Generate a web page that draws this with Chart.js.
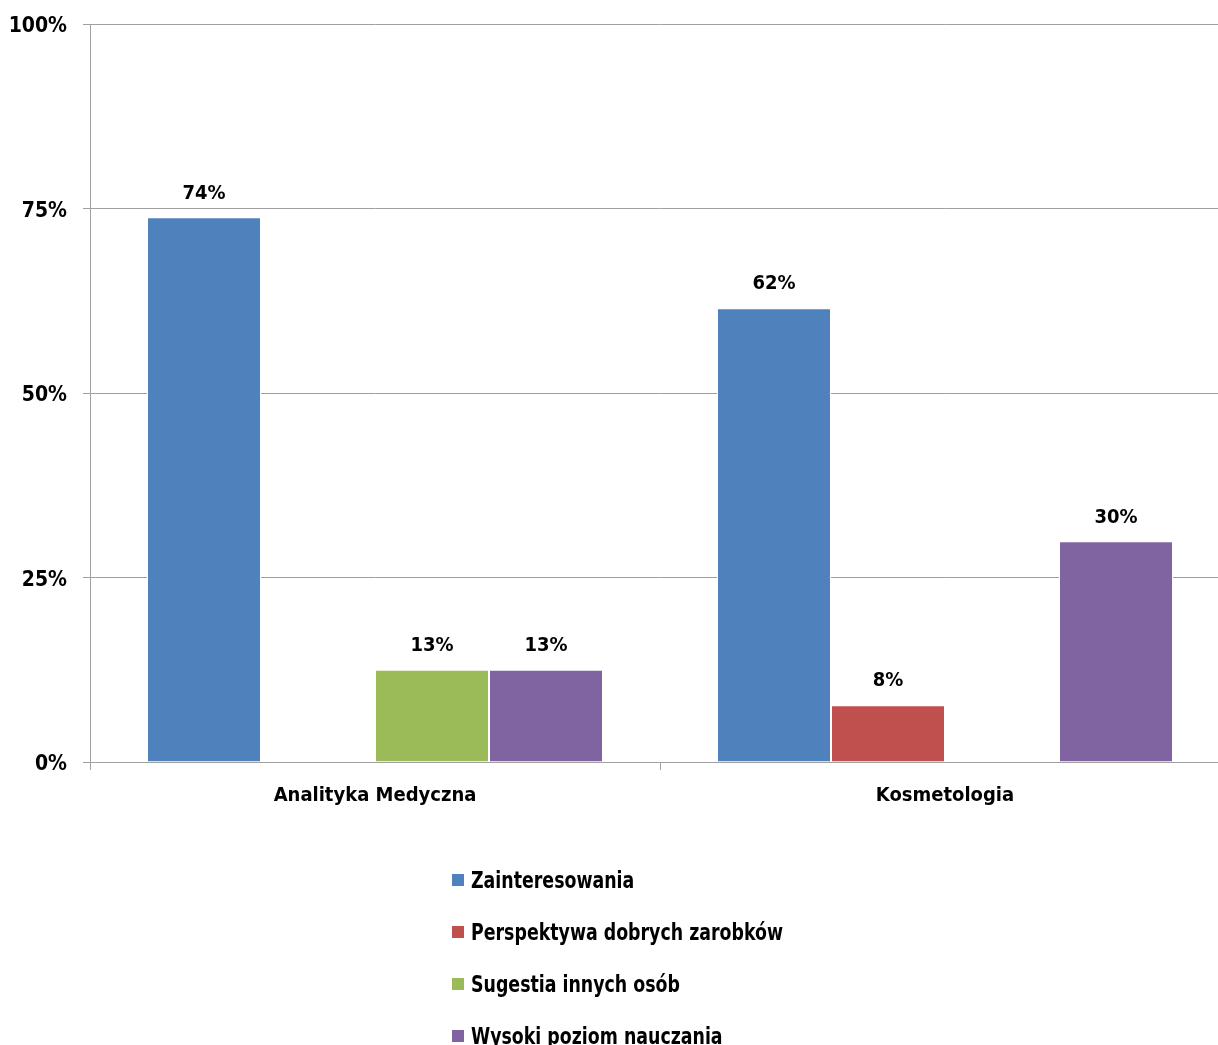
<!DOCTYPE html>
<html>
<head>
<meta charset="utf-8">
<script src="https://cdn.jsdelivr.net/npm/chart.js@4/dist/chart.umd.min.js"></script>
<style>
  html, body { margin: 0; padding: 0; background: #fff; overflow: hidden; }
  #wrap { position: relative; width: 1230px; height: 1045px; }
  #legend { position: absolute; left: 452px; top: 866px; font-family: "Liberation Sans Narrow", "DejaVu Sans Condensed", sans-serif; font-weight: bold; font-size: 23px; color: #000; }
  #legend div { height: 52px; line-height: 28px; white-space: nowrap; }
  #legend span.box { display: inline-block; width: 12px; height: 12px; margin-right: 7px; vertical-align: 2px; }
  #legend span.txt { display: inline-block; transform: scaleX(0.84); transform-origin: left center; }
</style>
</head>
<body>
<div id="wrap">
  <canvas id="myChart" width="1230" height="1045"></canvas>
  <div id="legend"></div>
</div>
<script>
// data
var categories = ["Analityka Medyczna", "Kosmetologia"];
var seriesNames = ["Zainteresowania", "Perspektywa dobrych zarobków", "Sugestia innych osób", "Wysoki poziom nauczania"];
var zainteresowania = [73.8, 61.5];
var zarobki = [null, 7.7];
var sugestia = [12.5, null];
var nauczanie = [12.5, 29.9];
var yTicks = [0, 25, 50, 75, 100];

var colors = ['#4F81BD', '#C0504D', '#9BBB59', '#8064A2'];
var fontFam = '"Liberation Sans Narrow", "DejaVu Sans Condensed", sans-serif';

var allValues = [zainteresowania, zarobki, sugestia, nauczanie];
var datasets = [];
for (var i = 0; i < seriesNames.length; i++) {
    datasets.push({
        label: seriesNames[i],
        data: allValues[i],
        backgroundColor: colors[i],
        borderColor: '#ffffff',
        borderWidth: 1,
        categoryPercentage: 0.8,
        barPercentage: 1.0
    });
}

// value labels above the bars
var barLabels = {
    id: 'barLabels',
    afterDatasetsDraw: function(chart) {
        var ctx = chart.ctx;
        ctx.save();
        ctx.font = 'bold 20px ' + fontFam;
        ctx.fillStyle = '#000';
        ctx.textAlign = 'center';
        ctx.textBaseline = 'bottom';
        chart.data.datasets.forEach(function(ds, di) {
            var meta = chart.getDatasetMeta(di);
            meta.data.forEach(function(el, idx) {
                var v = ds.data[idx];
                if (v === null) return;
                ctx.fillText(Math.round(v) + '%', el.x, el.y - 14);
            });
        });
        ctx.restore();
    }
};

var ctx = document.getElementById("myChart");
var myChart = new Chart(ctx, {
    type: 'bar',
    data: { labels: categories, datasets: datasets },
    options: {
        responsive: false,
        animation: false,
        layout: { padding: { top: 24, bottom: 213, left: 0, right: 0 } },
        plugins: {
            legend: { display: false },
            tooltip: { enabled: false }
        },
        scales: {
            x: {
                offset: true,
                grid: { offset: true, drawOnChartArea: false, tickLength: 8, color: '#a0a0a0' },
                border: { color: '#a0a0a0' },
                ticks: { color: '#000', font: { family: fontFam, size: 20, weight: 'bold' }, padding: 14 },
                afterFit: function(scale) { scale.height = 70; }
            },
            y: {
                min: 0,
                max: 100,
                afterBuildTicks: function(scale) {
                    scale.ticks = yTicks.map(function(v) { return { value: v }; });
                },
                grid: { color: '#a0a0a0', tickLength: 7 },
                border: { color: '#a0a0a0' },
                ticks: {
                    color: '#000',
                    padding: 16,
                    labelOffset: 3,
                    font: { family: fontFam, size: 21, weight: 'bold' },
                    callback: function(v) { return v + '%'; }
                },
                afterFit: function(scale) {
                    scale.width = 90;
                    scale.paddingTop = 0;
                    scale.paddingBottom = 0;
                }
            }
        }
    },
    plugins: [barLabels]
});

// vertical legend under the chart
var legend = document.getElementById('legend');
seriesNames.forEach(function(name, i) {
    var row = document.createElement('div');
    var box = document.createElement('span');
    box.className = 'box';
    box.style.background = colors[i];
    var txt = document.createElement('span');
    txt.className = 'txt';
    txt.textContent = name;
    row.appendChild(box);
    row.appendChild(txt);
    legend.appendChild(row);
});
</script>
</body>
</html>
